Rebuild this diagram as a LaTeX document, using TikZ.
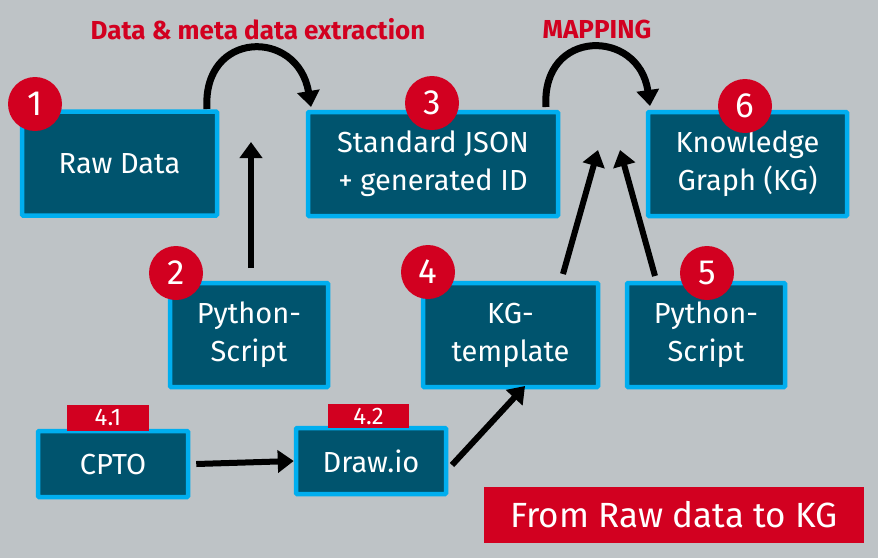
\documentclass[tikz,border=0pt]{standalone}
\usepackage{fontspec}
\setmainfont{Fira Sans}
\usetikzlibrary{arrows.meta}
\definecolor{bg}{HTML}{BEC3C6}
\definecolor{boxfill}{HTML}{00546E}
\definecolor{boxline}{HTML}{00AEEF}
\definecolor{rd}{HTML}{D20020}
\begin{document}
\begin{tikzpicture}[x=1pt,y=-1pt,
  stepbox/.style={draw=boxline,line width=4.5pt,fill=boxfill,text=white,font=\fontsize{29}{38}\selectfont,align=center,inner sep=0pt,rounded corners=1pt},
  numcirc/.style={circle,fill=rd,text=white,minimum size=54pt,inner sep=0pt,font=\fontsize{35}{35}\selectfont},
  tag/.style={fill=rd,text=white,inner sep=0pt,font=\fontsize{24}{24}\selectfont},
  arr/.style={line width=6pt,-{Triangle[length=16pt,width=22pt]}},
  title/.style={text=rd,font=\bfseries\fontsize{26}{26}\selectfont}]
\fill[bg] (0,0) rectangle (878,558);
\useasboundingbox (0,0) rectangle (878,558);
% boxes
\node[stepbox,minimum width=195pt,minimum height=104pt] (b1) at (119.5,163.5) {Raw Data};
\node[stepbox,minimum width=250pt,minimum height=104pt] (b3) at (433,164) {Standard JSON\\+ generated ID};
\node[stepbox,minimum width=199pt,minimum height=104pt] (b6) at (747.5,164) {Knowledge\\Graph (KG)};
\node[stepbox,minimum width=158pt,minimum height=104pt] (b2) at (249,335) {Python-\\Script};
\node[stepbox,minimum width=175pt,minimum height=104pt] (b4) at (510.5,335) {KG-\\template};
\node[stepbox,minimum width=158pt,minimum height=104pt] (b5) at (706,335) {Python-\\Script};
\node[stepbox,minimum width=150pt,minimum height=66pt] (c41) at (113,464) {CPTO};
\node[stepbox,minimum width=150pt,minimum height=66pt] (c42) at (371,461) {Draw.io};
% tags
\node[tag,minimum width=82pt,minimum height=26pt] (t41) at (108,417.5) {4.1};
\node[tag,minimum width=81pt,minimum height=24pt] (t42) at (368.5,416) {4.2};
% circles
\node[numcirc] (n1) at (35,104) {1};
\node[numcirc] (n2) at (176,273) {2};
\node[numcirc] (n3) at (432,103) {3};
\node[numcirc] (n4) at (428,272) {4};
\node[numcirc] (n5) at (707,273) {5};
\node[numcirc] (n6) at (745,106) {6};
% titles
\node[title] (tt1) at (258,29) {Data \& meta data extraction};
\node[title] (tt2) at (597,29) {MAPPING};
% bottom banner
\node[fill=rd,text=white,minimum width=380pt,minimum height=56pt,inner sep=0pt,font=\fontsize{35}{35}\selectfont] (ban) at (674,515) {From Raw data to KG};
% curved arrows
\coordinate (a1s) at (207,109);
\coordinate (a1e) at (311,107);
\draw[arr,line width=7pt] (a1s) .. controls (202,30) and (298,28) .. (a1e);
\coordinate (a2s) at (546,107);
\coordinate (a2e) at (650,106);
\draw[arr,line width=7pt] (a2s) .. controls (541,28) and (639,28) .. (a2e);
% straight arrows
\coordinate (u1) at (251,142);
\coordinate (u1s) at (251,268);
\draw[arr] (u1s) -- (u1);
\coordinate (u2) at (598,150);
\coordinate (u2s) at (563,274);
\draw[arr] (u2s) -- (u2);
\coordinate (u3) at (620,150);
\coordinate (u3s) at (655,276);
\draw[arr] (u3s) -- (u3);
\draw[arr] (c41.east) ++(6pt,0) -- (c42.west);
\coordinate (d1) at (452,465);
\coordinate (d2) at (525,386);
\draw[arr] (d1) -- (d2);
\end{tikzpicture}
\end{document}
